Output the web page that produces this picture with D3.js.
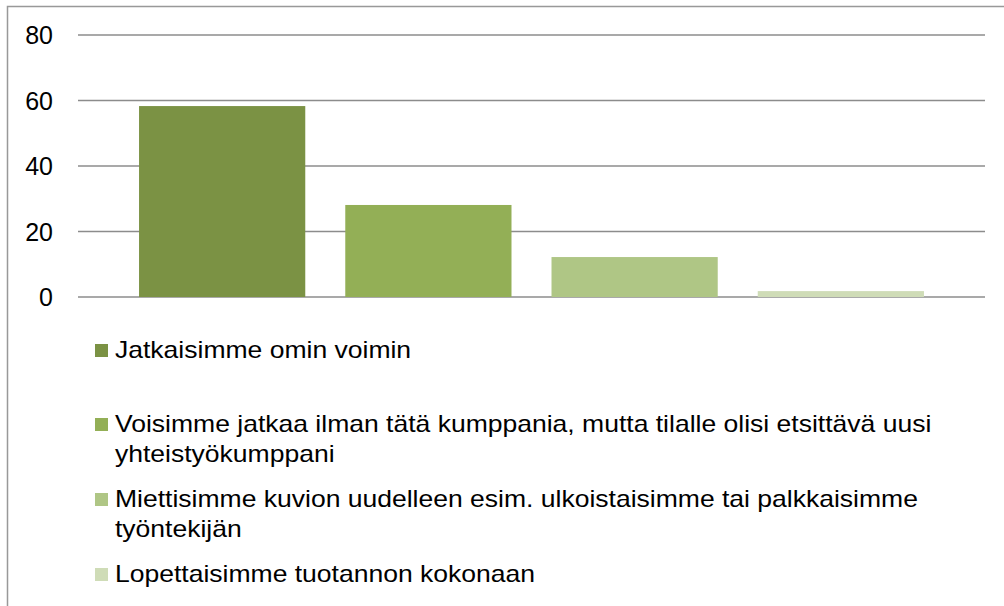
<!DOCTYPE html>
<html>
<head>
<meta charset="utf-8">
<script src="https://cdn.jsdelivr.net/npm/d3@7"></script>
<style>
  body { margin: 0; background: #fff; }
  svg { display: block; font-family: "Liberation Sans", Arial, sans-serif; }
</style>
</head>
<body>
<svg width="1004" height="606"></svg>
<script>
var categories = [
  "Jatkaisimme omin voimin",
  "Voisimme jatkaa ilman tätä kumppania, mutta tilalle olisi etsittävä uusi yhteistyökumppani",
  "Miettisimme kuvion uudelleen esim. ulkoistaisimme tai palkkaisimme työntekijän",
  "Lopettaisimme tuotannon kokonaan"
];
var values = [58.3, 28.1, 12.2, 1.8];
var yTicks = [0, 20, 40, 60, 80];
var colors = ["#7b9244", "#93af56", "#afc685", "#cfdcb7"];

var svg = d3.select("svg");

// outer frame
svg.append("rect")
  .attr("x", 7.5).attr("y", 6.5)
  .attr("width", 1010).attr("height", 620)
  .attr("fill", "none")
  .attr("stroke", "#999")
  .attr("stroke-width", 1.5);

var x = d3.scaleBand()
  .domain(categories)
  .range([78, 985])
  .paddingInner(0.194)
  .paddingOuter(0.296);

var y = d3.scaleLinear()
  .domain([0, 80])
  .range([297, 35]);

// gridlines
svg.append("g")
  .selectAll("line")
  .data(yTicks)
  .enter()
  .append("line")
  .attr("x1", 78).attr("x2", 985)
  .attr("y1", function(d) { return y(d); })
  .attr("y2", function(d) { return y(d); })
  .attr("stroke", "#8c8c8c")
  .attr("stroke-width", 1.6);

// y labels
svg.append("g")
  .selectAll("text")
  .data(yTicks)
  .enter()
  .append("text")
  .attr("x", 53)
  .attr("y", function(d) { return y(d); })
  .attr("dy", "0.36em")
  .attr("text-anchor", "end")
  .attr("font-size", 25)
  .attr("fill", "#000")
  .text(function(d) { return d; });

// bars
svg.append("g")
  .selectAll("rect")
  .data(values)
  .enter()
  .append("rect")
  .attr("x", function(d, i) { return x(categories[i]); })
  .attr("width", x.bandwidth())
  .attr("y", function(d) { return y(d); })
  .attr("height", function(d) { return y(0) - y(d); })
  .attr("fill", function(d, i) { return colors[i]; });

// legend (text is slightly stretched horizontally like the original)
var legendTop = [358, 432, 507, 582];
var lineH = 30;
var stretch = 1.105;
var maxW = 765;

var legend = svg.append("g")
  .selectAll("g")
  .data(categories)
  .enter()
  .append("g");

legend.append("rect")
  .attr("x", 95)
  .attr("y", function(d, i) { return legendTop[i] - 14; })
  .attr("width", 13).attr("height", 13)
  .attr("fill", function(d, i) { return colors[i]; });

legend.append("text")
  .attr("transform", function(d, i) {
    return "translate(115," + legendTop[i] + ") scale(" + stretch + ",1)";
  })
  .attr("font-size", 24)
  .attr("fill", "#000")
  .each(function(d) {
    var t = d3.select(this);
    var words = d.split(" ");
    var line = [];
    var tspan = t.append("tspan").attr("x", 0);
    words.forEach(function(w) {
      line.push(w);
      tspan.text(line.join(" "));
      if (tspan.node().getComputedTextLength() > maxW && line.length > 1) {
        line.pop();
        tspan.text(line.join(" "));
        line = [w];
        tspan = t.append("tspan").attr("x", 0).attr("dy", lineH).text(w);
      }
    });
  });
</script>
</body>
</html>
